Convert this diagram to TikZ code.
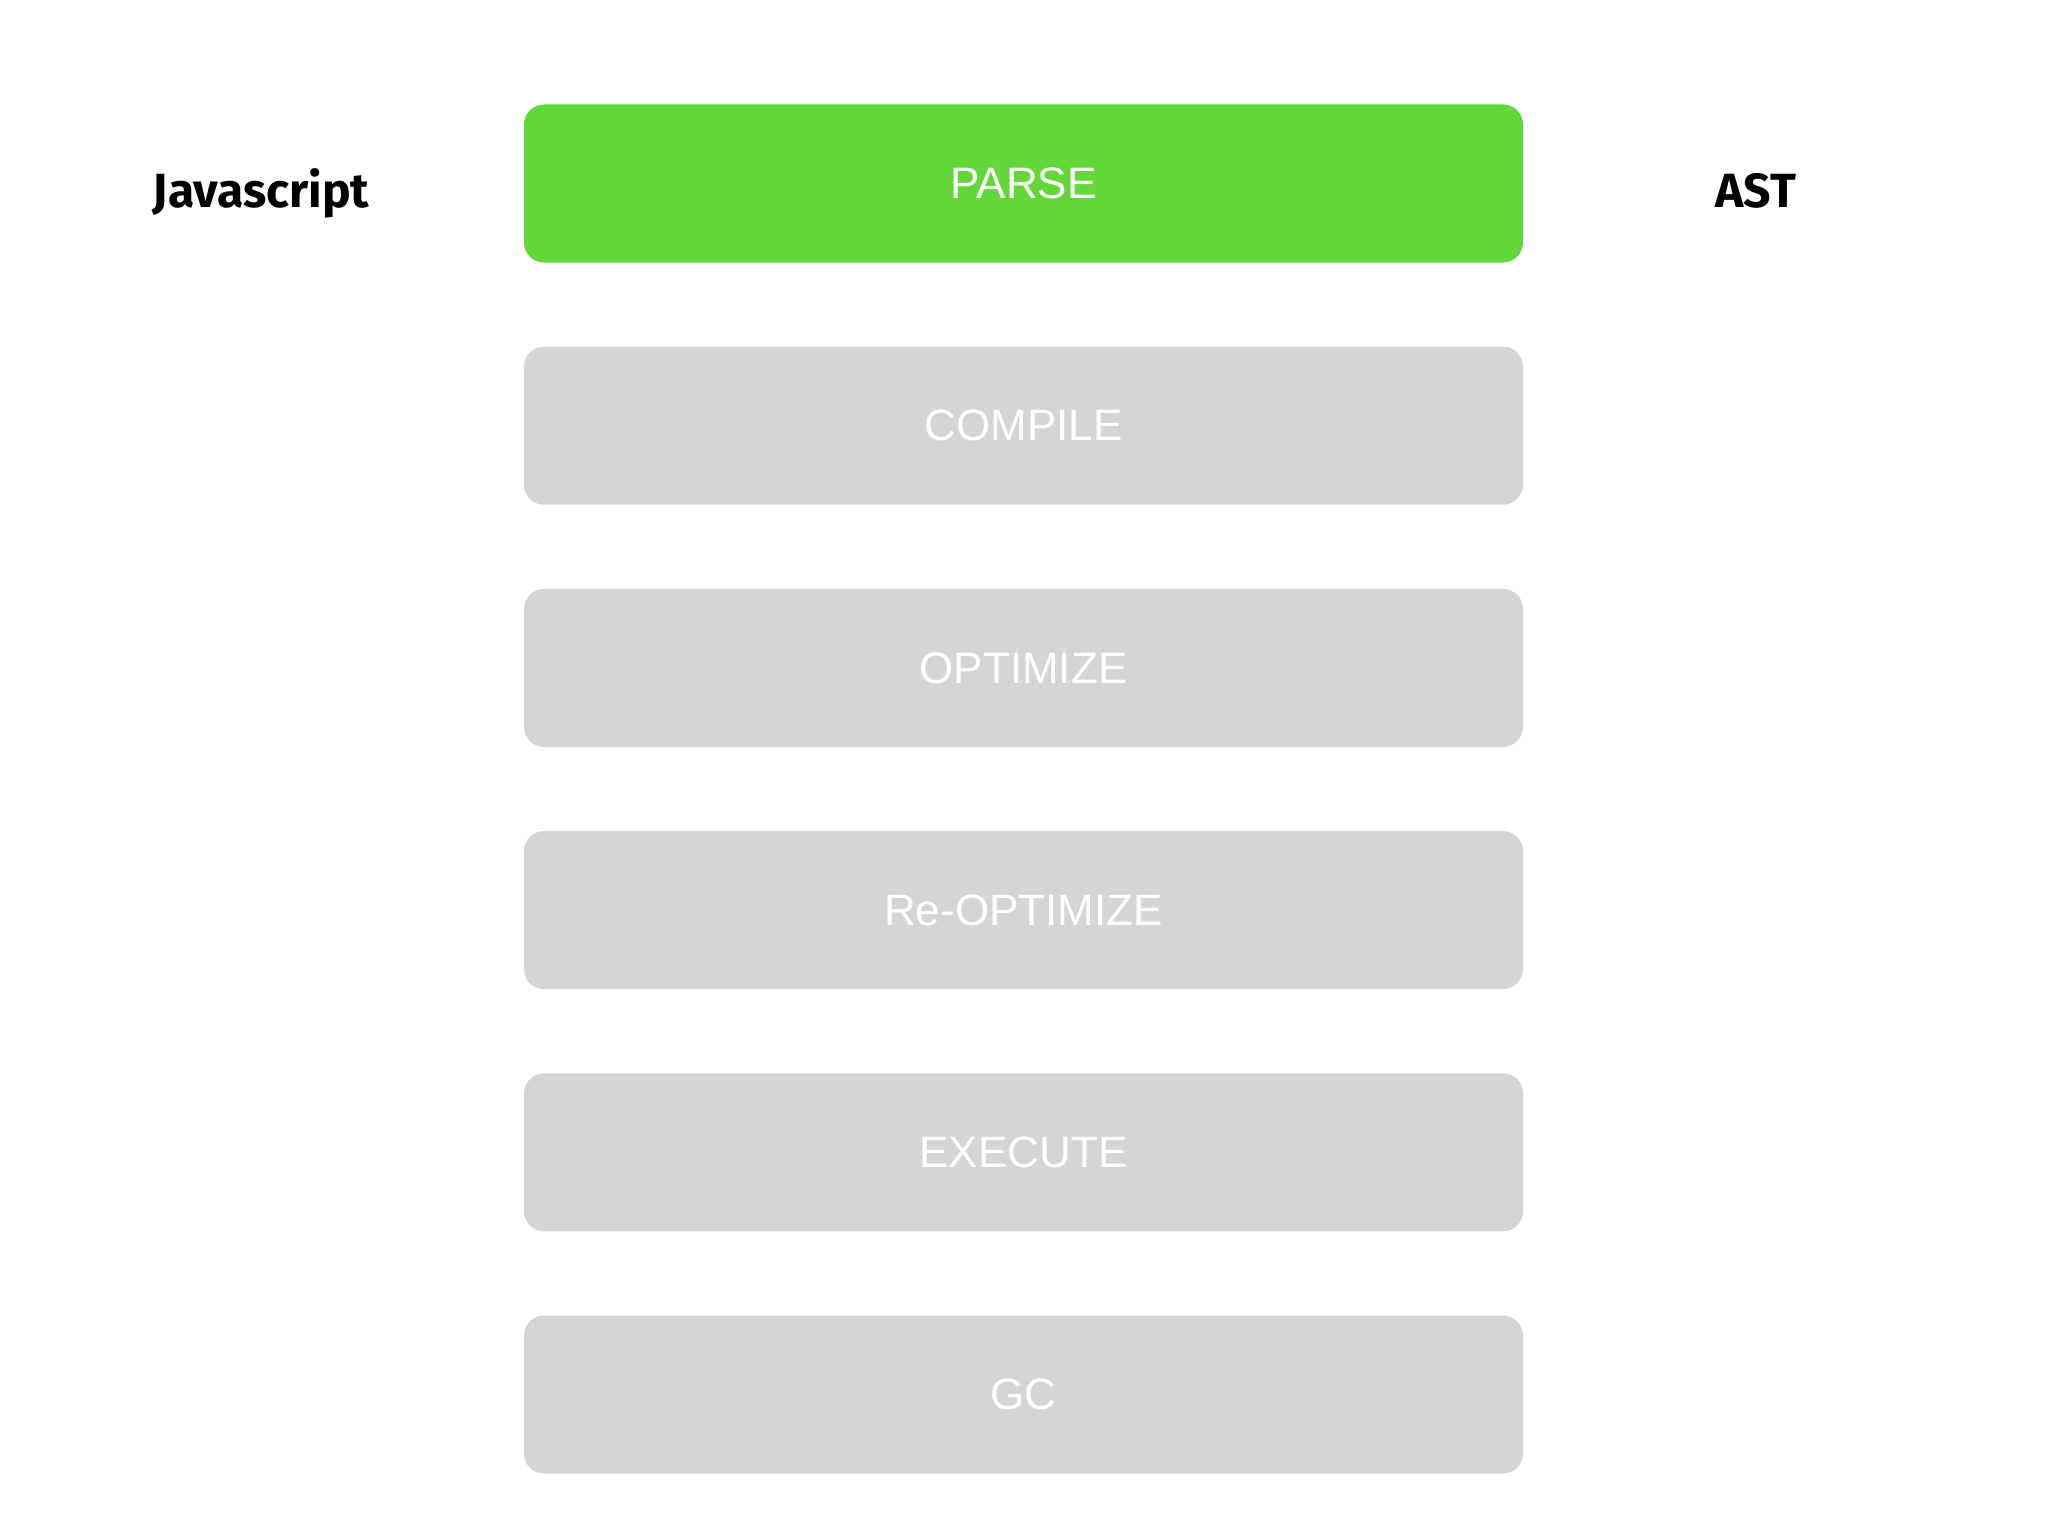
\documentclass[tikz,border=0pt]{standalone}
\usepackage{fontspec}
\setmainfont{Liberation Sans}
\newfontfamily\labelfont{Fira Sans}
\definecolor{parsegreen}{HTML}{62D838}
\definecolor{stagegray}{HTML}{D5D5D5}
\begin{document}
\begin{tikzpicture}[x=1pt,y=-1pt,
  stagebox/.style={rectangle, rounded corners=20pt, minimum width=999pt, minimum height=158pt,
    inner sep=0pt, fill=stagegray, text=white, font=\fontsize{44}{50}\selectfont},
  activebox/.style={stagebox, fill=parsegreen},
  sidelabel/.style={font=\labelfont\bfseries\fontsize{48}{56}\selectfont, text=black, inner sep=0pt}]
\useasboundingbox[fill=white] (0,0) rectangle (2048,1536);
\node[activebox] (parse) at (1023.5,183.5) {PARSE};
\node[stagebox] (compile) at (1023.5,425.7) {COMPILE};
\node[stagebox] (optimize) at (1023.5,667.9) {OPTIMIZE};
\node[stagebox] (reopt) at (1023.5,910.1) {Re-OPTIMIZE};
\node[stagebox] (execute) at (1023.5,1152.3) {EXECUTE};
\node[stagebox] (gc) at (1023.5,1394.5) {GC};
\node[sidelabel, anchor=base] (js) at (261,207) {Javascript};
\node[sidelabel, anchor=base] (ast) at (1756,207) {AST};
\end{tikzpicture}
\end{document}
